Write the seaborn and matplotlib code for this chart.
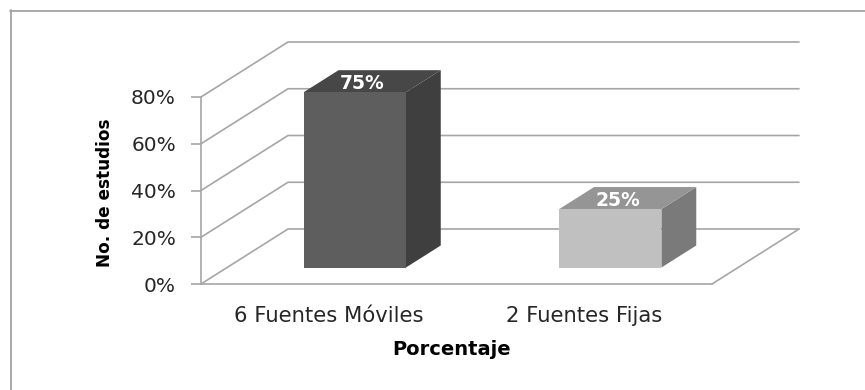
import matplotlib
matplotlib.use("Agg")
import matplotlib.pyplot as plt
import numpy as np
import pandas as pd
import seaborn as sns
from matplotlib.patches import Polygon
from matplotlib.transforms import Affine2D
from matplotlib.lines import Line2D

# ---- data ----
categorias = ["6 Fuentes Móviles", "2 Fuentes Fijas"]
porcentajes = [75, 25]
etiquetas = ["75%", "25%"]
ticks_y = [0, 20, 40, 60, 80]
ticks_txt = ["0%", "20%", "40%", "60%", "80%"]

# ---- styling ----
col_frente = ["#5e5e5e", "#c0c0c0"]
col_lado = ["#3f3f3f", "#7a7a7a"]
col_tapa = ["#474747", "#959595"]
gris = "#a6a6a6"
texto = "#262626"

sns.set_theme(style="white")
plt.rcParams["font.family"] = ["DejaVu Sans"]

W, H = 865, 390
fig = plt.figure(figsize=(W / 100, H / 100), dpi=100)
x0, x1, y0, y1 = 201, 712, 284, 97
ax = fig.add_axes([x0 / W, (H - y0) / H, (x1 - x0) / W, (y0 - y1) / H])

df = pd.DataFrame({"cat": categorias, "val": porcentajes})
sns.barplot(data=df, x="cat", y="val", hue="cat", palette=col_frente,
            width=0.4, saturation=1, legend=False, ax=ax, zorder=5)
ax.set_xlim(-0.5, 1.5)
ax.set_ylim(0, 80)

# oblique projection: offset (in data units) of the back of the floor
px_cat = (x1 - x0) / 2.0
px_pct = (y0 - y1) / 80.0
DX, DY = 87 / px_cat, 55 / px_pct
z0, z1 = 0.3, 0.7  # depth span of the bars

def shift(x, y, z):
    return (x + z * DX, y + z * DY)

# back wall and left wall gridlines
for t in ticks_y:
    xs = [-0.5, -0.5 + DX, 1.5 + DX]
    ys = [t, t + DY, t + DY]
    ax.add_line(Line2D(xs, ys, color=gris, lw=1.2, clip_on=False, zorder=1))
# floor right edge
ax.add_line(Line2D([1.5, 1.5 + DX], [0, DY], color=gris, lw=1.2, clip_on=False, zorder=1))

# 3D faces for each bar
for i, p in enumerate(ax.patches):
    bx, bw, bh = p.get_x(), p.get_width(), p.get_height()
    p.set_transform(Affine2D().translate(z0 * DX, z0 * DY) + ax.transData)
    p.set_clip_on(False)
    p.set_edgecolor("none")
    side = [shift(bx + bw, 0, z0), shift(bx + bw, bh, z0),
            shift(bx + bw, bh, z1), shift(bx + bw, 0, z1)]
    top = [shift(bx, bh, z0), shift(bx + bw, bh, z0),
           shift(bx + bw, bh, z1), shift(bx, bh, z1)]
    ax.add_patch(Polygon(side, closed=True, facecolor=col_lado[i], edgecolor="none",
                         clip_on=False, zorder=4))
    ax.add_patch(Polygon(top, closed=True, facecolor=col_tapa[i], edgecolor="none",
                         clip_on=False, zorder=4))
    cx, cy = shift(bx + bw / 2, bh, (z0 + z1) / 2)
    ax.annotate(etiquetas[i], (cx, cy), xytext=(-7, -2), textcoords="offset points",
                ha="center", va="center", color="white", fontsize=13.5,
                fontweight="bold", zorder=6, annotation_clip=False)

# axes
for s in ["top", "right"]:
    ax.spines[s].set_visible(False)
for s in ["left", "bottom"]:
    ax.spines[s].set_color(gris)
    ax.spines[s].set_linewidth(1.2)
ax.set_yticks(ticks_y)
ax.set_yticklabels(ticks_txt)
ax.tick_params(axis="y", which="both", left=True, length=7, width=1.2, color=gris,
               pad=11, labelsize=14.5, labelcolor=texto)
ax.tick_params(axis="x", bottom=False, pad=10, labelsize=15.2, labelcolor=texto)
ax.set_xlabel("Porcentaje", fontsize=14, fontweight="bold", color="black")
ax.set_ylabel("No. de estudios", fontsize=12.2, fontweight="bold", color="black")
ax.xaxis.set_label_coords(0.491, -0.30)
ax.yaxis.set_label_coords(-0.17, 0.49)
ax.patch.set_alpha(0)

# outer frame (top and left edges)
fig.add_artist(Line2D([10 / W, 1], [1 - 10.5 / H, 1 - 10.5 / H], color="#a3a3a3", lw=1.3,
                      transform=fig.transFigure))
fig.add_artist(Line2D([10.5 / W, 10.5 / W], [0, 1 - 10 / H], color="#a3a3a3", lw=1.3,
                      transform=fig.transFigure))

fig.savefig("out.png", dpi=100, facecolor="white")
